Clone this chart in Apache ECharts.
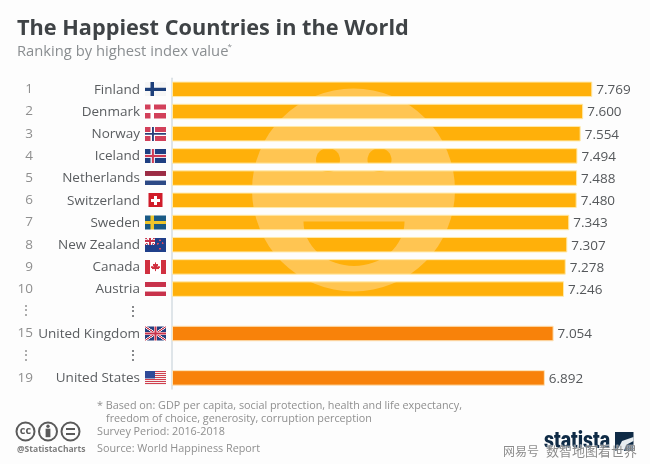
<!DOCTYPE html>
<html><head><meta charset="utf-8">
<style>html,body{margin:0;padding:0;background:#fdfdfd}#c{width:650px;height:464px}</style>
<script src="https://cdn.jsdelivr.net/npm/echarts@6/dist/echarts.min.js"></script>
</head><body><div id="c"></div>
<script>
const ranks = ['1','2','3','4','5','6','7','8','9','10','⋮','15','⋮','19'];
const countries = ['Finland','Denmark','Norway','Iceland','Netherlands','Switzerland','Sweden','New Zealand','Canada','Austria','⋮','United Kingdom','⋮','United States'];
const flagKeys = ['fi','dk','no','is','nl','ch','se','nz','ca','at','','gb','','us'];
const values = [7.769,7.6,7.554,7.494,7.488,7.48,7.343,7.307,7.278,7.246,null,7.054,null,6.892];
const highlighted = ['United Kingdom','United States'];
const footnotes = ['* Based on: GDP per capita, social protection, health and life expectancy,','freedom of choice, generosity, corruption perception','Survey Period: 2016-2018','Source: World Happiness Report'];

const BAR = '#ffb00a', FACE = '#ffc552', ORANGE = '#f8820a';

// Bar fill: the smiley shows only through the bars
function facePattern(){
  const c = document.createElement('canvas'); c.width = 650; c.height = 464;
  const g = c.getContext('2d');
  g.fillStyle = BAR; g.fillRect(0,0,650,464);
  g.fillStyle = FACE; g.beginPath(); g.arc(353.5,190,101.5,0,Math.PI*2); g.fill();
  g.fillStyle = BAR;
  g.beginPath(); g.arc(328,160,12,0,Math.PI*2); g.fill();
  g.beginPath(); g.arc(379.5,160,12,0,Math.PI*2); g.fill();
  g.beginPath(); g.moveTo(303.5,221.5); g.lineTo(404.5,221.5); g.ellipse(354,221.5,50.5,44.5,0,0,Math.PI); g.closePath(); g.fill();
  return c;
}

function flag(k){
  const s = 4, c = document.createElement('canvas'); c.width = 21*s; c.height = 15*s;
  const g = c.getContext('2d'); g.scale(s,s);
  const R=(col,x,y,w,h)=>{g.fillStyle=col;g.fillRect(x,y,w,h);};
  const nordic=(bg,o,i)=>{R(bg,0,.5,21,14); R(o,5.5,.5,i?4.5:3.5,14); R(o,0,5.5,21,i?4:3.5); if(i){R(i,6.8,.5,1.9,14);R(i,0,6.6,21,1.8);}};
  const stroke=(col,w,pts)=>{g.strokeStyle=col;g.lineWidth=w;g.beginPath();g.moveTo(pts[0],pts[1]);g.lineTo(pts[2],pts[3]);g.stroke();};
  const union=(w,h)=>{
    R('#26407f',0,.5,w,h);
    g.save();g.beginPath();g.rect(0,.5,w,h);g.clip();
    stroke('#fff',2.4,[0,.5,w,h+.5]);stroke('#fff',2.4,[w,.5,0,h+.5]);
    stroke('#c8324b',1,[0,.5,w,h+.5]);stroke('#c8324b',1,[w,.5,0,h+.5]);
    R('#fff',w/2-1.7,.5,3.4,h);R('#fff',0,.5+h/2-1.7,w,3.4);
    R('#c8324b',w/2-1,.5,2,h);R('#c8324b',0,.5+h/2-1,w,2);
    g.restore();
  };
  if(k==='fi'){ R('#f6f6f6',0,.5,21,14); R('#1d3f7a',5.5,.5,3.6,14); R('#1d3f7a',0,5.8,21,3.4); }
  if(k==='dk') nordic('#d2405a','#fff');
  if(k==='no') nordic('#d2405a','#fff','#2a3f78');
  if(k==='is') nordic('#1f3f82','#e8e4ee','#cf3a52');
  if(k==='nl'){ R('#9c2c45',0,.5,21,4.7); R('#fff',0,5.2,21,4.7); R('#2d4a86',0,9.9,21,4.6); }
  if(k==='ch'){ R('#d01c2a',3.5,.5,14,14); R('#fff',9,3,3,9); R('#fff',6,6,9,3); }
  if(k==='se') { R('#1a5a85',0,.5,21,14); R('#eec52a',5.5,.5,3.4,14); R('#eec52a',0,5.8,21,3.4); }
  if(k==='nz'){ R('#1f3f8a',0,.5,21,14); union(10,7);
    [[15,3.2],[12.8,6.5],[17.6,6],[15,11.5]].forEach(p=>{g.fillStyle='#e04a5a';g.beginPath();g.arc(p[0],p[1],.95,0,7);g.fill();}); }
  if(k==='ca'){ R('#fff',0,.5,21,14); R('#d0303f',0,.5,5,14); R('#d0303f',16,.5,5,14);
    g.fillStyle='#d0303f';g.beginPath();
    [[10.5,2.8],[11.6,5],[13,4.4],[12.5,7.4],[14.5,6.7],[14.8,8],[13.8,9.8],[11,10],[11,12],[10,12],[10,10],[7.2,9.8],[6.2,8],[6.5,6.7],[8.5,7.4],[8,4.4],[9.4,5]].forEach((p,i)=>i?g.lineTo(p[0],p[1]):g.moveTo(p[0],p[1]));
    g.closePath();g.fill(); }
  if(k==='at'){ R('#c8324b',0,.5,21,14); R('#fff',0,5.2,21,4.7); }
  if(k==='gb') union(21,14);
  if(k==='us'){ for(let i=0;i<7;i++){R('#d0404f',0,.5+i*2,21,1.1);R('#f6f0f0',0,1.6+i*2,21,.9);}
    R('#2f4a98',0,.5,10,7.6); }
  return c;
}

const flagRich = {};
flagKeys.forEach(k=>{ flagRich[k||'none'] = k
  ? {width:21,height:15,backgroundColor:{image:flag(k)}}
  : {width:21,height:15}; });

const pattern = {image:facePattern(),repeat:'no-repeat'};
const seriesData = values.map((v,i)=>({
  value:v,
  itemStyle:{
    color: highlighted.includes(countries[i]) ? ORANGE : pattern,
    borderColor: highlighted.includes(countries[i]) ? '#fde3b8' : '#ffe9a8',
    borderWidth:1
  }
}));

const gray = '#8f8f8f';
const text = (x,y,t,s,extra)=>Object.assign({type:'text',x,y,silent:true,style:Object.assign({text:t,fontFamily:'Open Sans',fontSize:10.8,fill:gray,textVerticalAlign:'middle'},s||{})},extra||{});
const ring = (cx)=>({type:'circle',shape:{cx,cy:431.5,r:9},silent:true,style:{fill:'none',stroke:'#5a5a5a',lineWidth:2}});
const graphics = [
  text(17,28.5,'The Happiest Countries in the World',{fontWeight:700,fontSize:21.7,fill:'#3f4346'}),
  text(17,52,'Ranking by highest index value',{fontSize:14.75,fill:'#8a8e91'}),
  text(227.5,47,'*',{fontSize:8,fill:'#8a8e91'}),
  text(97,406,footnotes[0]),text(106,419,footnotes[1]),text(97,432,footnotes[2]),text(97,449,footnotes[3]),
  ring(25.5),ring(48),ring(70.5),
  text(25.5,431,'cc',{fontWeight:700,fontSize:11,fill:'#5a5a5a',textAlign:'center'}),
  {type:'circle',shape:{cx:48,cy:426.3,r:1.7},silent:true,style:{fill:'#5a5a5a'}},
  {type:'rect',shape:{x:45.6,y:428.7,width:4.8,height:8.5},silent:true,style:{fill:'#5a5a5a'}},
  {type:'rect',shape:{x:66,y:428,width:9,height:2},silent:true,style:{fill:'#5a5a5a'}},
  {type:'rect',shape:{x:66,y:433,width:9,height:2},silent:true,style:{fill:'#5a5a5a'}},
  text(17,449.5,'@StatistaCharts',{fontWeight:700,fontSize:8.5,fill:'#7d7d7d'}),
  text(544,442,'statista',{fontFamily:'Roboto',fontWeight:900,fontSize:19.5,fill:'#0f2b46'},{scaleY:1.25}),
  {type:'rect',shape:{x:615,y:432,width:18.5,height:19},silent:true,style:{fill:'#0f2b46'}},
  {type:'polygon',shape:{points:[[617,451],[622,441],[633.5,437],[633.5,441],[626,445],[624,451]]},silent:true,style:{fill:'#e8edf0'}},
  text(503,451,'网易号',{fontFamily:'Noto Sans CJK SC',fontSize:12,fill:'rgba(120,120,120,.85)',stroke:'rgba(255,255,255,.7)',lineWidth:1}),
  text(546,451,'数智地图看世界',{fontFamily:'Noto Sans CJK SC',fontSize:13,fill:'rgba(110,110,110,.8)',stroke:'rgba(255,255,255,.7)',lineWidth:1})
];

const chart = echarts.init(document.getElementById('c'),null,{renderer:'canvas'});
chart.setOption({
  animation:false,
  backgroundColor:'#fdfdfd',
  grid:{left:172,top:78.2,width:432.8,height:310.8,containLabel:false},
  xAxis:{type:'value',min:0,max:8,show:false},
  yAxis:[
    {type:'category',inverse:true,data:countries,
     axisLine:{show:true,onZero:false,lineStyle:{color:'#d5dde2',width:1.5}},axisTick:{show:false},
     axisLabel:{interval:0,margin:6,align:'right',
       formatter:(v,i)=>`{name|${v}}{${flagKeys[i]||'none'}|}`,
       rich:Object.assign({name:{fontFamily:'Open Sans',fontSize:13.5,color:'#5a5d60',padding:[1,5,0,0]}},flagRich)}},
    {type:'category',inverse:true,position:'left',offset:139,data:ranks,
     axisLine:{show:false},axisTick:{show:false},
     axisLabel:{interval:0,margin:0,align:'right',padding:[1,0,0,0],fontFamily:'Open Sans',fontSize:13.5,color:'#8f8f8f'}}
  ],
  series:[{type:'bar',yAxisIndex:0,barWidth:15.5,data:seriesData,
    label:{show:true,position:'right',distance:4,offset:[0,1],fontFamily:'Open Sans',fontSize:13.5,color:'#55585b',
      formatter:p=>p.value==null?'':p.value.toFixed(3)}}],
  graphic:graphics
});
</script></body></html>
